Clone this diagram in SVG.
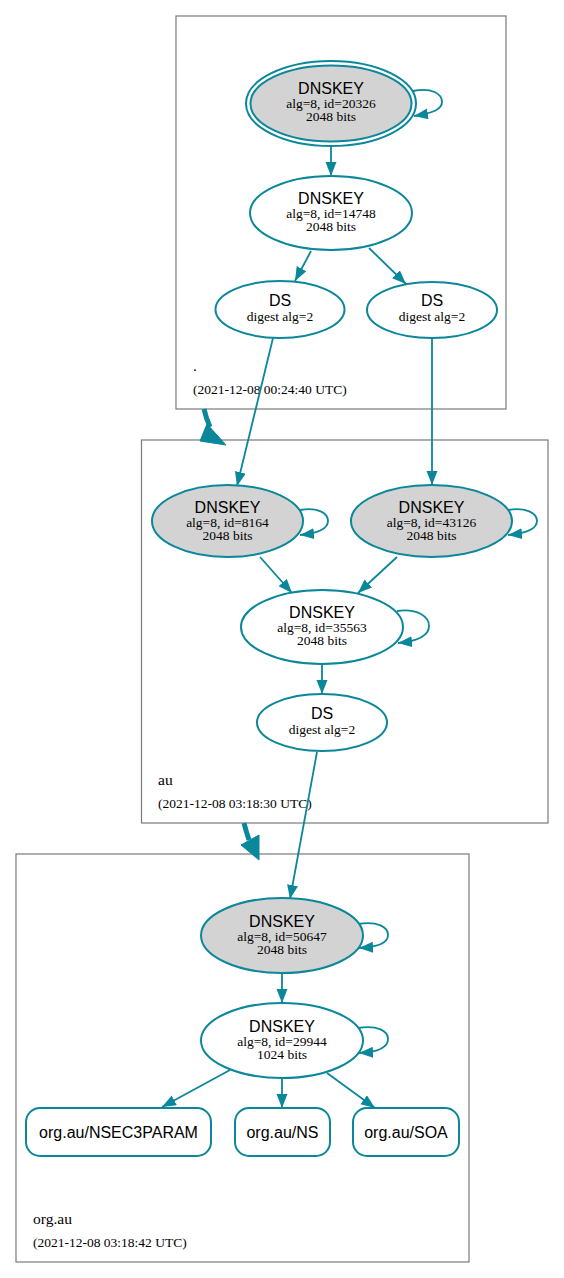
<svg xmlns="http://www.w3.org/2000/svg" width="564" height="1278" viewBox="0 0 564 1278">
<style>
.cl{fill:#fff;stroke:#7a7a7a;stroke-width:1.2}
.key{fill:#fff;stroke:#0a879a;stroke-width:2}
.ksk{fill:#d3d3d3;stroke:#0a879a;stroke-width:2}
.e{fill:none;stroke:#0a879a;stroke-width:1.8}
.big{fill:none;stroke:#0a879a;stroke-width:5}
.bh{fill:#0a879a;stroke:#0a879a;stroke-width:1}
.t1{font-family:"Liberation Sans",Arial,sans-serif;font-size:16px;fill:#000;text-anchor:middle}
.t2{font-family:"Liberation Serif","Times New Roman",serif;font-size:13.5px;fill:#000;text-anchor:middle}
.ct{font-family:"Liberation Serif","Times New Roman",serif;font-size:15.5px;fill:#000}
.cd{font-family:"Liberation Serif","Times New Roman",serif;font-size:13.5px;fill:#000}
</style>
<defs>
<marker id="ah" markerUnits="userSpaceOnUse" markerWidth="15" markerHeight="12" refX="14" refY="5.5" orient="auto">
<path d="M0,0 L14,5.5 L0,11 z" fill="#0a879a"/>
</marker>
</defs>
<rect width="564" height="1278" fill="#fff"/>

<g id="cluster-root">
<rect class="cl" x="176" y="16" width="330" height="393"/>
<text class="ct" x="193" y="371">.</text>
<text class="cd" x="193" y="394">(2021-12-08 00:24:40 UTC)</text>
</g>
<g id="cluster-au">
<rect class="cl" x="141.5" y="440" width="406.5" height="383"/>
<text class="ct" x="158" y="785">au</text>
<text class="cd" x="158" y="808">(2021-12-08 03:18:30 UTC)</text>
</g>
<g id="cluster-orgau">
<rect class="cl" x="16" y="854" width="453" height="408"/>
<text class="ct" x="33" y="1224">org.au</text>
<text class="cd" x="33" y="1247">(2021-12-08 03:18:42 UTC)</text>
</g>

<g id="connectors">
<path class="big" d="M204,409 Q206,418 210,427"/>
<polygon class="bh" points="207,424 200,441 226,445"/>
<path class="big" d="M244,823 Q246,831 249,840"/>
<polygon class="bh" points="241,845 259,835 259,860"/>

<path class="e" marker-end="url(#ah)" d="M331,146 L331,176"/>
<path class="e" marker-end="url(#ah)" d="M311,251 L295,281"/>
<path class="e" marker-end="url(#ah)" d="M369,248 L406,284"/>
<path class="e" marker-end="url(#ah)" d="M273,338 L237,486"/>
<path class="e" marker-end="url(#ah)" d="M432,338 L432,485"/>
<path class="e" marker-end="url(#ah)" d="M260,557 L292,593"/>
<path class="e" marker-end="url(#ah)" d="M397,557 L358,593"/>
<path class="e" marker-end="url(#ah)" d="M322,664 L322,694"/>
<path class="e" marker-end="url(#ah)" d="M317,752 L290,899"/>
<path class="e" marker-end="url(#ah)" d="M282,973 L282,1003"/>
<path class="e" marker-end="url(#ah)" d="M230,1070 L162,1107"/>
<path class="e" marker-end="url(#ah)" d="M282,1078 L282,1108"/>
<path class="e" marker-end="url(#ah)" d="M327,1073 L375,1108"/>

<path class="e" marker-end="url(#ah)" d="M413,91 C432,87 442,94 442,102 C442,109 434,113 414,116"/>
<path class="e" marker-end="url(#ah)" d="M300,510 C318,507 328,513 328,521 C328,528 320,533 300,535"/>
<path class="e" marker-end="url(#ah)" d="M508,510 C526,507 537,513 537,521 C537,528 529,533 508,535"/>
<path class="e" marker-end="url(#ah)" d="M397,611 C418,608 429,617 429,626 C429,635 419,641 398,643"/>
<path class="e" marker-end="url(#ah)" d="M358,924 C378,921 388,927 388,935 C388,942 380,947 359,948"/>
<path class="e" marker-end="url(#ah)" d="M358,1028 C378,1025 388,1031 388,1039 C388,1047 380,1052 359,1053"/>
</g>

<g id="ksk-20326">
<ellipse class="key" cx="331" cy="103.5" rx="85" ry="42.5"/>
<ellipse class="ksk" cx="331" cy="103.5" rx="80.5" ry="38"/>
<text class="t1" x="331" y="94">DNSKEY</text>
<text class="t2" x="331" y="108">alg=8, id=20326</text>
<text class="t2" x="331" y="121">2048 bits</text>
</g>
<g id="zsk-14748">
<ellipse class="key" cx="331" cy="213" rx="81" ry="37"/>
<text class="t1" x="331" y="204">DNSKEY</text>
<text class="t2" x="331" y="218">alg=8, id=14748</text>
<text class="t2" x="331" y="231">2048 bits</text>
</g>
<g id="ds-root-1">
<ellipse class="key" cx="280" cy="309.5" rx="64.5" ry="28.5"/>
<text class="t1" x="280" y="305.5">DS</text>
<text class="t2" x="280" y="320.5">digest alg=2</text>
</g>
<g id="ds-root-2">
<ellipse class="key" cx="432" cy="310" rx="65" ry="28"/>
<text class="t1" x="432" y="306">DS</text>
<text class="t2" x="432" y="321">digest alg=2</text>
</g>

<g id="ksk-8164">
<ellipse class="ksk" cx="227.5" cy="521" rx="75.5" ry="36"/>
<text class="t1" x="227.5" y="513">DNSKEY</text>
<text class="t2" x="227.5" y="527">alg=8, id=8164</text>
<text class="t2" x="227.5" y="540">2048 bits</text>
</g>
<g id="ksk-43126">
<ellipse class="ksk" cx="431.5" cy="521" rx="80.5" ry="36"/>
<text class="t1" x="431.5" y="513">DNSKEY</text>
<text class="t2" x="431.5" y="527">alg=8, id=43126</text>
<text class="t2" x="431.5" y="540">2048 bits</text>
</g>
<g id="zsk-35563">
<ellipse class="key" cx="322" cy="627" rx="81" ry="37"/>
<text class="t1" x="322" y="618">DNSKEY</text>
<text class="t2" x="322" y="632">alg=8, id=35563</text>
<text class="t2" x="322" y="645">2048 bits</text>
</g>
<g id="ds-au">
<ellipse class="key" cx="322" cy="722.5" rx="65" ry="28.5"/>
<text class="t1" x="322" y="718.5">DS</text>
<text class="t2" x="322" y="733.5">digest alg=2</text>
</g>

<g id="ksk-50647">
<ellipse class="ksk" cx="282" cy="935.5" rx="81" ry="37.5"/>
<text class="t1" x="282" y="926.5">DNSKEY</text>
<text class="t2" x="282" y="940.5">alg=8, id=50647</text>
<text class="t2" x="282" y="953.5">2048 bits</text>
</g>
<g id="zsk-29944">
<ellipse class="key" cx="282" cy="1040.5" rx="81" ry="37.5"/>
<text class="t1" x="282" y="1031.5">DNSKEY</text>
<text class="t2" x="282" y="1045.5">alg=8, id=29944</text>
<text class="t2" x="282" y="1058.5">1024 bits</text>
</g>
<g id="rr-nsec3param">
<rect class="key" x="26" y="1108" width="185" height="48" rx="14"/>
<text class="t1" x="118.5" y="1137.5">org.au/NSEC3PARAM</text>
</g>
<g id="rr-ns">
<rect class="key" x="235" y="1108" width="95" height="48" rx="14"/>
<text class="t1" x="282.5" y="1137.5">org.au/NS</text>
</g>
<g id="rr-soa">
<rect class="key" x="353" y="1108" width="106" height="48" rx="14"/>
<text class="t1" x="406" y="1137.5">org.au/SOA</text>
</g>
</svg>
